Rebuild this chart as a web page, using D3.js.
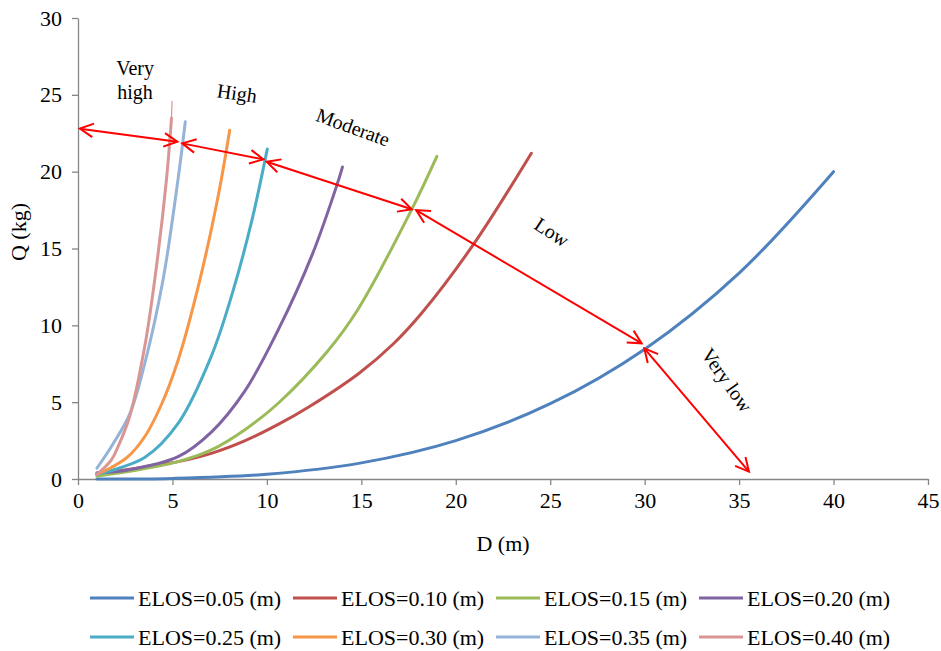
<!DOCTYPE html>
<html>
<head>
<meta charset="utf-8">
<script src="https://cdn.jsdelivr.net/npm/d3@7"></script>
<style>
  body { margin: 0; background: #fff; }
  text { font-family: "Liberation Serif", "Times New Roman", "DejaVu Serif", serif; fill: #000; }
</style>
</head>
<body>
<div id="chart"></div>
<script>
// Values: D (m) and Q (kg) for each ELOS curve
const elosNames = ["ELOS=0.05 (m)", "ELOS=0.10 (m)", "ELOS=0.15 (m)", "ELOS=0.20 (m)",
  "ELOS=0.25 (m)", "ELOS=0.30 (m)", "ELOS=0.35 (m)", "ELOS=0.40 (m)"];

const d05 = [1, 5, 10, 15, 20, 25, 30, 35, 40];
const q05 = [0.0, 0.04, 0.31, 1.05, 2.5, 4.9, 8.45, 13.4, 20.0];
const d10 = [1, 2.65, 5.3, 7.06, 8.82, 10.6, 12.3, 14.9, 16.7, 18.2, 20.9, 24];
const q10 = [0.35, 0.62, 1.13, 1.67, 2.48, 3.55, 4.75, 6.9, 8.8, 10.8, 15.2, 21.2];
const d15 = [1, 2.65, 5.3, 7.06, 8.82, 10.6, 13.2, 14.8, 17.67, 19];
const q15 = [0.2, 0.48, 1.13, 1.89, 3.19, 4.93, 8.3, 11.0, 17.55, 21.0];
const d20 = [1, 2.65, 5.3, 7.06, 8.82, 10.6, 12.4, 13.7, 14.0];
const q20 = [0.4, 0.59, 1.45, 3.05, 5.7, 9.7, 14.6, 19.1, 20.3];
const d25 = [1, 3.53, 5.29, 7.06, 8.15, 9.18, 10.02];
const q25 = [0.3, 1.4, 3.6, 8.0, 12.0, 16.7, 21.47];
const d30 = [1, 1.76, 2.6, 3.53, 4.4, 5.29, 6.44, 7.45, 8.03];
const q30 = [0.3, 0.75, 1.4, 2.75, 4.8, 7.7, 12.9, 18.6, 22.7];
const d35 = [1, 1.76, 2.73, 3.53, 4.5, 5.29, 5.68];
const q35 = [0.7, 2.1, 4.2, 7.5, 12.95, 19.45, 23.25];
const d40 = [1, 1.76, 2.12, 2.73, 3.53, 4.06, 4.68, 4.95];
const q40 = [0.3, 1.23, 2.1, 4.05, 8.6, 12.95, 19.45, 23.5];
// faint thin tip above the ELOS=0.40 curve
const tip40D = [4.95, 4.98];
const tip40Q = [23.5, 24.6];

const xTicks = [0, 5, 10, 15, 20, 25, 30, 35, 40, 45];
const yTicks = [0, 5, 10, 15, 20, 25, 30];

// zone annotations
const zoneText = ["Very", "high", "High", "Moderate", "Low", "Very low"];
const zoneD = [3.02, 3.02, 8.42, 14.56, 25.09, 34.36];
const zoneQ = [26.74, 25.18, 25.11, 22.9, 16.07, 6.44];
const zoneAngle = [0, 0, 8, 20, 33, 55];

// double-headed red arrows
const arrowFromD = [0.1, 5.52, 9.99, 17.9, 29.98];
const arrowFromQ = [22.8, 21.84, 20.65, 17.5, 8.5];
const arrowToD = [5.26, 9.81, 17.67, 29.84, 35.52];
const arrowToQ = [21.95, 20.8, 17.55, 8.83, 0.48];

const colors = ["#4F81BD", "#C0504D", "#9BBB59", "#8064A2", "#4BACC6", "#F79646", "#95B3D7", "#D99694"];

function createChart(containerId) {
  const width = 941;
  const height = 651;
  const plot = { left: 78, right: 928, top: 18, bottom: 479 };
  const serif = '"Liberation Serif", "Times New Roman", "DejaVu Serif", serif';

  const svg = d3
    .select(containerId)
    .append("svg")
    .attr("width", width)
    .attr("height", height);

  const xScale = d3.scaleLinear().domain([0, 45]).range([plot.left, plot.right]);
  const yScale = d3.scaleLinear().domain([0, 30]).range([plot.bottom, plot.top]);

  // Axis

  const xAxis = svg
    .append("g")
    .attr("transform", `translate(0, ${plot.bottom})`)
    .call(d3.axisBottom(xScale).tickValues(xTicks).tickSize(6).tickPadding(7).tickSizeOuter(0));

  const yAxis = svg
    .append("g")
    .attr("transform", `translate(${plot.left}, 0)`)
    .call(d3.axisLeft(yScale).tickValues(yTicks).tickSize(6).tickPadding(10).tickSizeOuter(0));

  [xAxis, yAxis].forEach((g) => {
    g.attr("font-family", serif);
    g.select(".domain").attr("stroke", "#868686").attr("stroke-width", 1.3);
    g.selectAll(".tick line").attr("stroke", "#868686").attr("stroke-width", 1.3);
    g.selectAll(".tick text")
      .attr("fill", "#000")
      .style("font-family", serif)
      .style("font-size", "22px");
  });

  svg
    .append("text")
    .attr("x", (plot.left + plot.right) / 2)
    .attr("y", 551)
    .attr("text-anchor", "middle")
    .style("font-size", "22px")
    .text("D (m)");

  svg
    .append("text")
    .attr("transform", "translate(26, 232) rotate(-90)")
    .attr("text-anchor", "middle")
    .style("font-size", "22px")
    .text("Q (kg)");

  // Curves

  const series = [
    [d05, q05], [d10, q10], [d15, q15], [d20, q20],
    [d25, q25], [d30, q30], [d35, q35], [d40, q40],
  ].map(([d, q], i) => ({
    name: elosNames[i],
    color: colors[i],
    points: d.map((v, j) => ({ d: v, q: q[j] })),
  }));

  const line = d3
    .line()
    .x((p) => xScale(p.d))
    .y((p) => yScale(p.q))
    .curve(d3.curveCatmullRom.alpha(0.5));

  svg
    .append("path")
    .datum(tip40D.map((v, j) => ({ d: v, q: tip40Q[j] })))
    .attr("fill", "none")
    .attr("stroke", colors[7])
    .attr("stroke-width", 1.2)
    .attr("d", line);

  svg
    .selectAll(".curve")
    .data(series)
    .enter()
    .append("path")
    .attr("class", "curve")
    .attr("fill", "none")
    .attr("stroke", (s) => s.color)
    .attr("stroke-width", 3)
    .attr("stroke-linecap", "round")
    .attr("d", (s) => line(s.points));

  // Arrows

  const headLen = 15;
  const headAngle = (27 * Math.PI) / 180;

  function headPath(x0, y0, x1, y1) {
    // open arrowhead at (x1, y1) pointing away from (x0, y0)
    const a = Math.atan2(y1 - y0, x1 - x0);
    const p1 = [x1 - headLen * Math.cos(a - headAngle), y1 - headLen * Math.sin(a - headAngle)];
    const p2 = [x1 - headLen * Math.cos(a + headAngle), y1 - headLen * Math.sin(a + headAngle)];
    return `M${p1[0]},${p1[1]}L${x1},${y1}L${p2[0]},${p2[1]}`;
  }

  arrowFromD.forEach((d, i) => {
    const x0 = xScale(d);
    const y0 = yScale(arrowFromQ[i]);
    const x1 = xScale(arrowToD[i]);
    const y1 = yScale(arrowToQ[i]);
    const g = svg.append("g").attr("fill", "none").attr("stroke", "#FF0000").attr("stroke-width", 2);
    g.append("path").attr("d", `M${x0},${y0}L${x1},${y1}`);
    g.append("path").attr("d", headPath(x0, y0, x1, y1));
    g.append("path").attr("d", headPath(x1, y1, x0, y0));
  });

  // Zone labels

  zoneText.forEach((t, i) => {
    const x = xScale(zoneD[i]);
    const y = yScale(zoneQ[i]);
    svg
      .append("text")
      .attr("transform", `translate(${x}, ${y}) rotate(${zoneAngle[i]})`)
      .attr("text-anchor", "middle")
      .attr("dy", "0.35em")
      .style("font-size", "20px")
      .text(t);
  });

  // Legend

  const legend = svg
    .selectAll(".legend")
    .data(series)
    .enter()
    .append("g")
    .attr("class", "legend")
    .attr("transform", (s, i) => `translate(${90 + (i % 4) * 203}, ${598 + Math.floor(i / 4) * 39})`);

  legend
    .append("line")
    .attr("x1", 0)
    .attr("x2", 44)
    .attr("stroke", (s) => s.color)
    .attr("stroke-width", 3);

  legend
    .append("text")
    .attr("x", 48)
    .attr("dy", "0.35em")
    .style("font-size", "22px")
    .text((s) => s.name);
}

createChart("#chart");
</script>
</body>
</html>
